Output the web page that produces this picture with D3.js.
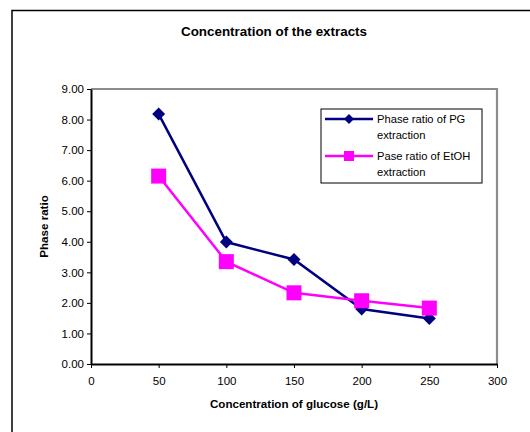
<!DOCTYPE html>
<html>
<head>
<meta charset="utf-8">
<script src="https://cdn.jsdelivr.net/npm/d3@7"></script>
<style>
  html, body { margin: 0; padding: 0; background: #fff; }
  svg { display: block; font-family: "Liberation Sans", Arial, sans-serif; }
</style>
</head>
<body>
<svg id="chart" width="530" height="432"></svg>
<script>
// Glucose concentrations (g/L)
const glucose = [50, 100, 150, 200, 250];
// Phase ratio, PG extraction
const pgRatio = [8.18, 3.99, 3.42, 1.80, 1.49];
// Phase ratio, EtOH extraction
const etohRatio = [6.15, 3.35, 2.33, 2.07, 1.83];
const seriesNames = ["Phase ratio of PG extraction", "Pase ratio of EtOH extraction"];
const xTicks = [0, 50, 100, 150, 200, 250, 300];
const yTicks = [0, 1, 2, 3, 4, 5, 6, 7, 8, 9];

(function () {
const svg = d3.select("#chart");

// Outer chart frame
svg.append("rect").attr("x", 12).attr("y", 10.5).attr("width", 530).attr("height", 440)
  .attr("fill", "#fff").attr("stroke", "#000").attr("stroke-width", 1.5);

const pLeft = 91, pRight = 497, pTop = 89, pBottom = 364;
const x = d3.scaleLinear().domain([0, 300]).range([pLeft, pRight]);
const y = d3.scaleLinear().domain([0, 9]).range([pBottom, pTop]);

// Plot area frame (grey top/right)
svg.append("path")
  .attr("d", `M${pLeft},${pTop}H${pRight}V${pBottom}`)
  .attr("fill", "none").attr("stroke", "#8c8c8c").attr("stroke-width", 2.2);

// Title
svg.append("text").attr("x", 274).attr("y", 36).attr("text-anchor", "middle")
  .attr("font-size", 13.4).attr("font-weight", "bold").text("Concentration of the extracts");

// Axes
const xAxis = svg.append("g").attr("transform", `translate(0,${pBottom})`)
  .call(d3.axisBottom(x).tickValues(xTicks).tickFormat(d3.format("d")).tickSizeInner(4).tickSizeOuter(0).tickPadding(9));
const yAxis = svg.append("g").attr("transform", `translate(${pLeft},0)`)
  .call(d3.axisLeft(y).tickValues(yTicks).tickFormat(d3.format(".2f")).tickSizeInner(4).tickSizeOuter(0).tickPadding(3));
[xAxis, yAxis].forEach(g => {
  g.select(".domain").attr("stroke", "#000").attr("stroke-width", 2);
  g.selectAll(".tick line").attr("stroke", "#000");
  g.selectAll(".tick text").attr("font-size", 11.5).attr("fill", "#000")
    .attr("font-family", "Liberation Sans, Arial, sans-serif");
});

// Axis titles
svg.append("text").attr("x", (pLeft + pRight) / 2).attr("y", 408).attr("text-anchor", "middle")
  .attr("font-size", 11.6).attr("font-weight", "bold").text("Concentration of glucose (g/L)");
svg.append("text").attr("transform", `translate(48,${(pTop + pBottom) / 2}) rotate(-90)`)
  .attr("text-anchor", "middle").attr("font-size", 11.6).attr("font-weight", "bold").text("Phase ratio");

const line = d3.line().x(d => x(d[0])).y(d => y(d[1]));
const pgData = glucose.map((g, i) => [g, pgRatio[i]]);
const etData = glucose.map((g, i) => [g, etohRatio[i]]);

const navy = "#000080", magenta = "#ff00ff";
const diamond = d3.symbol().type(d3.symbolSquare).size(84);

// PG series
svg.append("path").datum(pgData).attr("d", line)
  .attr("fill", "none").attr("stroke", navy).attr("stroke-width", 2.5);
svg.selectAll(".pg").data(pgData).enter().append("path")
  .attr("d", diamond)
  .attr("transform", d => `translate(${x(d[0])},${y(d[1])}) rotate(45)`)
  .attr("fill", navy);

// EtOH series
svg.append("path").datum(etData).attr("d", line)
  .attr("fill", "none").attr("stroke", magenta).attr("stroke-width", 2.5);
svg.selectAll(".et").data(etData).enter().append("rect")
  .attr("x", d => x(d[0]) - 7.5).attr("y", d => y(d[1]) - 7.5)
  .attr("width", 15).attr("height", 15).attr("fill", magenta);

// Legend
const lg = svg.append("g");
lg.append("rect").attr("x", 321).attr("y", 109).attr("width", 161).attr("height", 74)
  .attr("fill", "#fff").attr("stroke", "#000").attr("stroke-width", 1);
const items = [
  { color: navy, y: 119, lines: ["Phase ratio of PG", "extraction"], marker: "d" },
  { color: magenta, y: 156, lines: ["Pase ratio of EtOH", "extraction"], marker: "s" }
];
items.forEach(it => {
  lg.append("line").attr("x1", 325).attr("x2", 373).attr("y1", it.y).attr("y2", it.y)
    .attr("stroke", it.color).attr("stroke-width", 2.5);
  if (it.marker === "d") {
    lg.append("path").attr("d", d3.symbol().type(d3.symbolSquare).size(50))
      .attr("transform", `translate(349,${it.y}) rotate(45)`).attr("fill", it.color);
  } else {
    lg.append("rect").attr("x", 344).attr("y", it.y - 5).attr("width", 10).attr("height", 10)
      .attr("fill", it.color);
  }
  it.lines.forEach((t, j) => {
    lg.append("text").attr("x", 377).attr("y", it.y + 4 + j * 16)
      .attr("font-size", 11.2).text(t);
  });
});
})();
</script>
</body>
</html>
